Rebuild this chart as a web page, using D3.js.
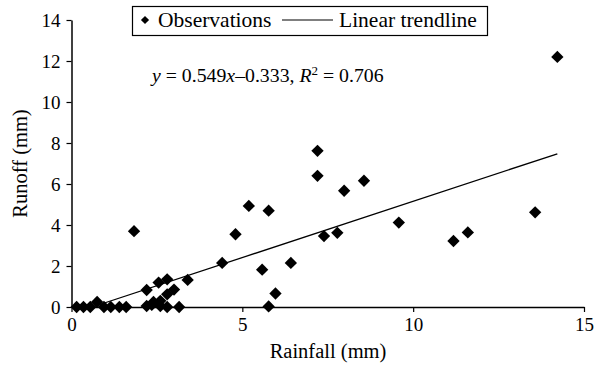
<!DOCTYPE html>
<html>
<head>
<meta charset="utf-8">
<script src="https://cdn.jsdelivr.net/npm/d3@7"></script>
<style>
  body { margin: 0; background: #fff; }
  svg text { font-family: 'Liberation Serif', 'DejaVu Serif', serif; fill: #000; }
</style>
</head>
<body>
<div id="chart"></div>
<script>
let width = 595
let height = 366
let margin = {left: 71.5, right: 11, top: 20, bottom: 59}

// observations (mm)
const rainfall = [0.15, 0.35, 0.55, 0.75, 0.95, 1.15, 1.4, 1.6,
                  1.83, 2.2, 2.2, 2.35, 2.4, 2.55, 2.6, 2.6, 2.8, 2.8, 2.8, 3.0, 3.15, 3.4,
                  4.41, 4.8, 5.19, 5.58, 5.77, 5.77, 5.97, 6.42, 7.2, 7.2, 7.39, 7.78, 7.98,
                  8.56, 9.58, 11.18, 11.6, 13.57, 14.22]
const runoff   = [0, 0, 0, 0.25, 0, 0, 0, 0,
                  3.7, 0.83, 0.05, 0.1, 0.25, 1.19, 0.3, 0.05, 1.35, 0.62, 0, 0.85, 0, 1.32,
                  2.15, 3.55, 4.93, 1.82, 4.7, 0.03, 0.66, 2.15, 7.62, 6.4, 3.46, 3.62, 5.67,
                  6.16, 4.12, 3.22, 3.64, 4.62, 12.2]

const slope = 0.549
const intercept = -0.333

const xTicks = [0, 5, 10, 15]
const yTicks = [0, 2, 4, 6, 8, 10, 12, 14]

const data = rainfall.map((r, i) => ({x: r, y: runoff[i]}))

const serif = 'Liberation Serif'

let innerW = width - margin.left - margin.right
let innerH = height - margin.top - margin.bottom

let svg = d3.select('#chart')
            .append('svg')
            .attr('width', width)
            .attr('height', height)
            .attr('font-family', serif)

let xScale = d3.scaleLinear().domain([0, 15]).range([0, innerW])
let yScale = d3.scaleLinear().domain([0, 14]).range([innerH, 0])

let g = svg.append('g')
           .attr('transform', 'translate(' + margin.left + ',' + margin.top + ')')

// axes
let xAxis = g.append('g')
    .attr('transform', 'translate(0,' + innerH + ')')
    .call(d3.axisBottom(xScale).tickValues(xTicks).tickSize(5).tickSizeOuter(0).tickPadding(6))
let yAxis = g.append('g')
    .call(d3.axisLeft(yScale).tickValues(yTicks).tickSize(5).tickSizeOuter(0).tickPadding(6))

;[xAxis, yAxis].forEach(ax => {
    ax.attr('font-family', serif).attr('font-size', 19)
    ax.select('.domain').attr('stroke', '#000').attr('stroke-width', 1.5)
    ax.selectAll('.tick line').attr('stroke', '#000').attr('stroke-width', 1.2)
    ax.selectAll('.tick text').attr('fill', '#000')
})

// trendline
let x0 = -intercept / slope
let x1 = d3.max(rainfall)
g.append('line')
    .attr('x1', xScale(x0)).attr('y1', yScale(slope * x0 + intercept))
    .attr('x2', xScale(x1)).attr('y2', yScale(slope * x1 + intercept))
    .attr('stroke', '#000')
    .attr('stroke-width', 1.3)

// observations
let diamond = d3.symbol(d3.symbolSquare, 76)
g.selectAll('.pt')
    .data(data)
    .enter()
    .append('path')
    .attr('class', 'pt')
    .attr('d', diamond)
    .attr('transform', d => 'translate(' + xScale(d.x) + ',' + yScale(d.y) + ') rotate(45)')
    .attr('fill', '#000')

// axis titles
svg.append('text')
    .attr('x', 328)
    .attr('y', 358)
    .attr('text-anchor', 'middle')
    .attr('font-size', 20.5)
    .text('Rainfall (mm)')

svg.append('text')
    .attr('transform', 'translate(27,' + (margin.top + innerH / 2) + ') rotate(-90)')
    .attr('text-anchor', 'middle')
    .attr('font-size', 20.5)
    .text('Runoff (mm)')

// equation
let eq = svg.append('text')
    .attr('x', 152)
    .attr('y', 82)
    .attr('font-size', 19.8)
eq.append('tspan').attr('font-style', 'italic').text('y')
eq.append('tspan').text(' = 0.549')
eq.append('tspan').attr('font-style', 'italic').text('x')
eq.append('tspan').text('–0.333, ')
eq.append('tspan').attr('font-style', 'italic').text('R')
eq.append('tspan').attr('dy', -7).attr('font-size', 13).text('2')
eq.append('tspan').attr('dy', 7).text(' = 0.706')

// legend
let legend = svg.append('g')
legend.append('rect')
    .attr('x', 132.5).attr('y', 6.5)
    .attr('width', 355).attr('height', 29)
    .attr('fill', '#fff')
    .attr('stroke', '#000')
    .attr('stroke-width', 1.2)
legend.append('path')
    .attr('d', d3.symbol(d3.symbolSquare, 34))
    .attr('transform', 'translate(145,20) rotate(45)')
    .attr('fill', '#000')
legend.append('text')
    .attr('x', 158).attr('y', 27)
    .attr('font-size', 21.5)
    .text('Observations')
legend.append('line')
    .attr('x1', 282).attr('x2', 333)
    .attr('y1', 20).attr('y2', 20)
    .attr('stroke', '#000')
    .attr('stroke-width', 1.2)
legend.append('text')
    .attr('x', 339).attr('y', 27)
    .attr('font-size', 21.5)
    .text('Linear trendline')
</script>
</body>
</html>
